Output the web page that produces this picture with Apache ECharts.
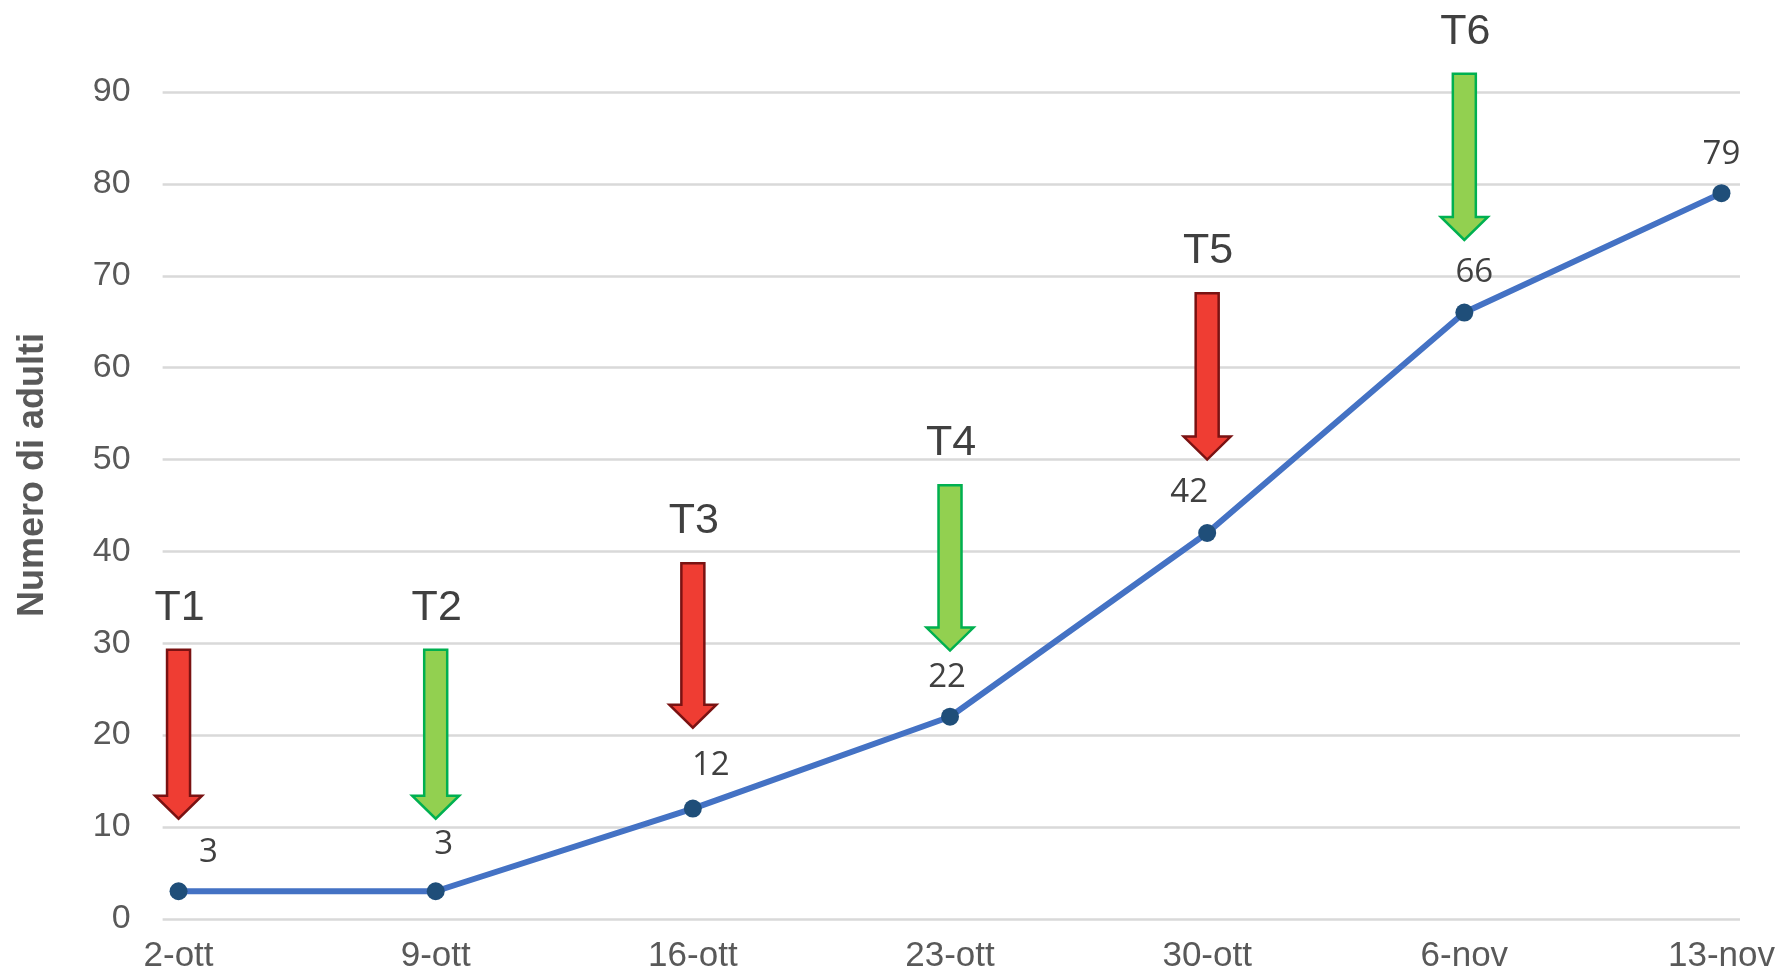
<!DOCTYPE html>
<html>
<head>
<meta charset="utf-8">
<script src="https://cdn.jsdelivr.net/npm/echarts@6/dist/echarts.min.js"></script>
<style>
  html, body { margin: 0; padding: 0; background: #fff; }
  #chart { width: 1783px; height: 976px; }
</style>
</head>
<body>
<div id="chart"></div>
<script>
// dates of the counts
const categories = ["2-ott", "9-ott", "16-ott", "23-ott", "30-ott", "6-nov", "13-nov"];
// number of adults counted
const adults = [3, 3, 12, 22, 42, 66, 79];
const yTicks = [0, 10, 20, 30, 40, 50, 60, 70, 80, 90];

// treatments, shown as arrows above the dates (value range of the arrow)
const treatments = ["T1", "T2", "T3", "T4", "T5", "T6"];
const treatmentAt = [0, 1, 2, 3, 4, 5];
const arrowTop = [29.3, 29.3, 38.7, 47.2, 68.1, 92.0];
const arrowTip = [10.9, 10.9, 20.8, 29.2, 50.0, 73.9];
const arrowKind = ["red", "green", "red", "green", "red", "green"];

var arrowColors = {
    red: { fill: "#EF3D33", stroke: "#7A1212" },
    green: { fill: "#92D050", stroke: "#00B050" }
};

// label nudges, so the numbers sit like in the original
var labelOffsets = [[30, -8], [8, -16], [18, -12], [-3, -9], [-18, -10], [10, -9], [0, -8]];

const chart = echarts.init(document.getElementById("chart"));

var lineData = adults.map(function (v, i) {
    return {
        value: [i, v],
        label: { offset: labelOffsets[i] }
    };
});

var arrowData = treatments.map(function (t, i) {
    return [treatmentAt[i], arrowTop[i], arrowTip[i], i];
});

function renderArrow(params, api) {
    var idx = api.value(3);
    var top = api.coord([api.value(0), api.value(1)]);
    var tip = api.coord([api.value(0), api.value(2)]);
    var cx = top[0];
    var shaft = 11.5, head = 23.5, headLen = 23;
    var baseY = tip[1] - headLen;
    var col = arrowColors[arrowKind[idx]];
    return {
        type: "group",
        children: [
            {
                type: "polygon",
                shape: {
                    points: [
                        [cx - shaft, top[1]], [cx + shaft, top[1]],
                        [cx + shaft, baseY], [cx + head, baseY],
                        [cx, tip[1]],
                        [cx - head, baseY], [cx - shaft, baseY]
                    ]
                },
                style: { fill: col.fill, stroke: col.stroke, lineWidth: 2.5 }
            },
            {
                type: "text",
                x: cx + 1,
                y: top[1] - 42,
                style: {
                    text: treatments[idx],
                    fill: "#404040",
                    font: "43px 'Liberation Sans', Arial, sans-serif",
                    align: "center",
                    verticalAlign: "middle"
                }
            }
        ]
    };
}

const option = {
    animation: false,
    backgroundColor: "#fff",
    grid: { left: 162.6, right: 43, top: 92.1, bottom: 57.2 },
    xAxis: {
        type: "value",
        min: -0.062,
        max: 6.072,
        splitLine: { show: false },
        axisLine: { show: false },
        axisTick: { show: false },
        axisLabel: {
            customValues: categories.map(function (c, i) { return i; }),
            formatter: function (v) { return categories[Math.round(v)]; },
            color: "#595959",
            fontSize: 35,
            fontFamily: "'Liberation Sans', Arial, sans-serif",
            margin: 20
        }
    },
    yAxis: {
        type: "value",
        min: yTicks[0],
        max: yTicks[yTicks.length - 1],
        interval: 10,
        axisLine: { show: false },
        axisTick: { show: false },
        splitLine: { lineStyle: { color: "#D9D9D9", width: 2.5 } },
        axisLabel: {
            color: "#595959",
            fontSize: 34,
            fontFamily: "'Liberation Sans', Arial, sans-serif",
            margin: 32
        }
    },
    graphic: [
        {
            type: "text",
            x: 33,
            y: 475,
            rotation: Math.PI / 2,
            style: {
                text: "Numero di adulti",
                fill: "#595959",
                font: "bold 36px 'Liberation Sans', Arial, sans-serif",
                align: "center",
                verticalAlign: "middle"
            }
        }
    ],
    series: [
        {
            type: "line",
            data: lineData,
            symbol: "circle",
            symbolSize: 18,
            lineStyle: { color: "#4472C4", width: 6 },
            itemStyle: { color: "#1F4E79" },
            label: {
                show: true,
                position: "top",
                color: "#404040",
                fontSize: 33,
                fontFamily: "'Open Sans', sans-serif"
            },
            z: 3
        },
        {
            type: "custom",
            data: arrowData,
            renderItem: renderArrow,
            clip: false,
            z: 4
        }
    ]
};

chart.setOption(option);
</script>
</body>
</html>
